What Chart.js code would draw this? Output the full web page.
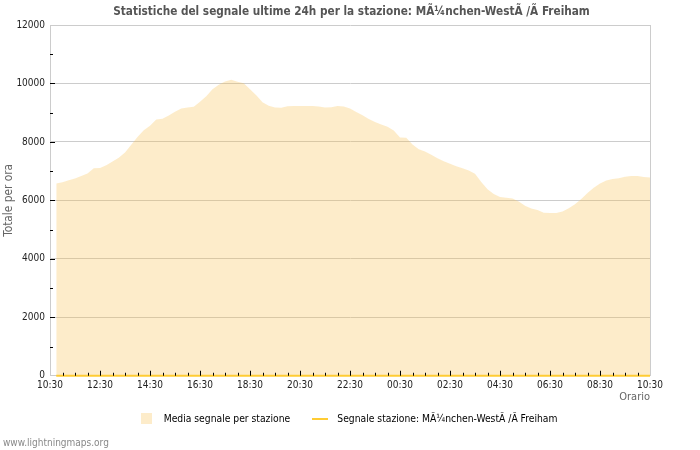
<!DOCTYPE html>
<html>
<head>
<meta charset="utf-8">
<script src="https://cdn.jsdelivr.net/npm/chart.js@4/dist/chart.umd.min.js"></script>
<style>
html,body{margin:0;padding:0;background:#fff;}
#wrap{width:700px;height:450px;}
</style>
</head>
<body>
<div id="wrap"><canvas id="c" width="700" height="450"></canvas></div>
<script>
// ---- data ----
const titleText = 'Statistiche del segnale ultime 24h per la stazione: MÃ¼nchen-WestÃ /Ã Freiham';
const seriesNames = ['Media segnale per stazione', 'Segnale stazione: MÃ¼nchen-WestÃ /Ã Freiham'];
const axisStart = '10:30';
const firstSample = '10:45';
const sampleStepMin = 15;
const tickLabels = ['10:30','12:30','14:30','16:30','18:30','20:30','22:30','00:30','02:30','04:30','06:30','08:30','10:30'];
const yTicks = [0, 2000, 4000, 6000, 8000, 10000, 12000];
const mediaSegnale = [
  6580, 6620, 6690, 6750, 6830, 6920, 7100, 7110, 7200, 7330, 7460, 7640,
  7900, 8170, 8400, 8550, 8770, 8790, 8900, 9030, 9140, 9180, 9200, 9370,
  9560, 9800, 9960, 10070, 10130, 10060, 10010, 9800, 9600, 9360, 9240, 9180,
  9170, 9220, 9225, 9225, 9225, 9225, 9210, 9180, 9190, 9225, 9210, 9140,
  9020, 8910, 8780, 8680, 8600, 8520, 8390, 8150, 8140, 7910, 7750, 7670,
  7560, 7440, 7340, 7250, 7170, 7100, 7020, 6910, 6630, 6380, 6220, 6115,
  6090, 6060, 5960, 5820, 5720, 5670, 5580, 5566, 5566, 5620, 5730, 5870,
  6050, 6250, 6430, 6580, 6680, 6730, 6760, 6810, 6830, 6835, 6800, 6780
];
const segnaleStazione = [
  0,0,0,0,0,0,0,0,0,0,0,0, 0,0,0,0,0,0,0,0,0,0,0,0,
  0,0,0,0,0,0,0,0,0,0,0,0, 0,0,0,0,0,0,0,0,0,0,0,0,
  0,0,0,0,0,0,0,0,0,0,0,0, 0,0,0,0,0,0,0,0,0,0,0,0,
  0,0,0,0,0,0,0,0,0,0,0,0, 0,0,0,0,0,0,0,0,0,0,0,0
];

// ---- helpers ----
function toMin(s){ const [h,m] = s.split(':').map(Number); return h*60+m; }
const base = toMin(axisStart);
const firstOff = (toMin(firstSample) - base + 1440) % 1440;
const xs = mediaSegnale.map((_, i) => firstOff + i*sampleStepMin);
const labelByOffset = {};
tickLabels.forEach((t, i) => { labelByOffset[i*120] = t; });

const FONT = "'DejaVu Sans Condensed', 'DejaVu Sans', sans-serif";
const areaFill = 'rgba(248, 192, 78, 0.3)';
const areaSolid = 'rgb(253, 236, 202)';
const lineColor = '#ffcc33';

function swatch(w, h, color){
  const c = document.createElement('canvas'); c.width = w; c.height = h;
  const g = c.getContext('2d'); g.fillStyle = color; g.fillRect(0,0,w,h); return c;
}
const sw1 = swatch(11, 11, areaSolid);
const sw2 = swatch(16, 2, lineColor);

const tickPlugin = {
  id: 'innerTicks',
  afterLayout(chart){
    if (chart.legend) { chart.legend.right -= 12; }
  },
  afterDraw(chart){
    const {ctx} = chart; const x = chart.scales.x, y = chart.scales.y;
    ctx.save(); ctx.strokeStyle = '#000'; ctx.lineWidth = 1;
    ctx.beginPath();
    for (let v = 30; v < 1440; v += 30) {
      const px = Math.round(x.getPixelForValue(v)) + 0.5;
      const len = (v % 120 === 0) ? 5 : 3;
      ctx.moveTo(px, y.bottom); ctx.lineTo(px, y.bottom - len);
    }
    for (let v = 1000; v < 12000; v += 1000) {
      const py = Math.round(y.getPixelForValue(v)) + 0.5;
      const len = (v % 2000 === 0) ? 5 : 3;
      ctx.moveTo(x.left, py); ctx.lineTo(x.left + len, py);
    }
    ctx.stroke(); ctx.restore();
  }
};

new Chart(document.getElementById('c'), {
  type: 'line',
  data: {
    datasets: [
      {
        label: seriesNames[0],
        data: xs.map((x, i) => ({x, y: mediaSegnale[i]})),
        fill: 'origin', backgroundColor: areaFill, borderWidth: 0, borderColor: 'transparent',
        pointRadius: 0, tension: 0, order: 2
      },
      {
        label: seriesNames[1],
        data: xs.map((x, i) => ({x, y: segnaleStazione[i]})),
        fill: false, borderColor: lineColor, borderWidth: 2, clip: false,
        pointRadius: 0, tension: 0, order: 1
      }
    ]
  },
  options: {
    responsive: false, animation: false,
    layout: { padding: { left: 3, right: 0, top: 0, bottom: 0 } },
    plugins: {
      tooltip: { enabled: false },
      title: {
        display: true, text: titleText, color: '#555',
        font: { family: FONT, size: 11.7, weight: 'bold', lineHeight: 1 },
        padding: { top: 6, bottom: 7.3 }
      },
      subtitle: {
        display: true, text: 'www.lightningmaps.org', position: 'bottom', align: 'start',
        color: '#888', font: { family: FONT, size: 10, lineHeight: 1 },
        padding: { top: 4, bottom: 2 }
      },
      legend: {
        position: 'bottom',
        labels: {
          usePointStyle: true, pointStyleWidth: 25, boxHeight: 11, padding: 17,
          color: '#555', font: { family: FONT, size: 10.25 },
          generateLabels: (chart) => chart.data.datasets.map((d, i) => ({
            text: d.label, pointStyle: i === 0 ? sw1 : sw2, datasetIndex: i,
            fillStyle: 'transparent', strokeStyle: 'transparent', lineWidth: 0, hidden: false
          }))
        }
      }
    },
    scales: {
      x: {
        type: 'linear', min: 0, max: 1440,
        afterBuildTicks: (s) => { const t = []; for (let v = 0; v <= 1440; v += 120) t.push({value: v}); s.ticks = t; },
        ticks: {
          autoSkip: false, maxRotation: 0, padding: 4, color: '#222',
          font: { family: FONT, size: 10 },
          callback: (v) => labelByOffset[v] !== undefined ? labelByOffset[v] : ''
        },
        grid: { display: false, drawTicks: false },
        border: { display: false },
        title: {
          display: true, text: 'Orario', align: 'end', color: '#666',
          font: { family: FONT, size: 11, lineHeight: 1 }, padding: { top: 0, bottom: -6 }
        },
        afterFit: (s) => { s.height = 21; }
      },
      y: {
        min: 0, max: 12000,
        afterBuildTicks: (s) => { s.ticks = yTicks.map(v => ({value: v})); },
        ticks: { autoSkip: false, padding: 5, color: '#222', font: { family: FONT, size: 10 },
          callback: (v) => String(v) },
        grid: { color: '#cccccc', drawTicks: false, lineWidth: 1 },
        border: { display: true, color: '#cccccc' },
        title: {
          display: true, text: 'Totale per ora', color: '#666',
          font: { family: FONT, size: 11.8, lineHeight: 1 }, padding: { top: 0, bottom: 0 }
        },
        afterFit: (s) => { s.width = 47; }
      },
      y2: {
        position: 'right', min: 0, max: 12000,
        ticks: { display: false },
        grid: { display: false, drawTicks: false },
        border: { display: true, color: '#cccccc' },
        afterFit: (s) => { s.width = 50; }
      }
    }
  },
  plugins: [tickPlugin]
});
</script>
</body>
</html>
